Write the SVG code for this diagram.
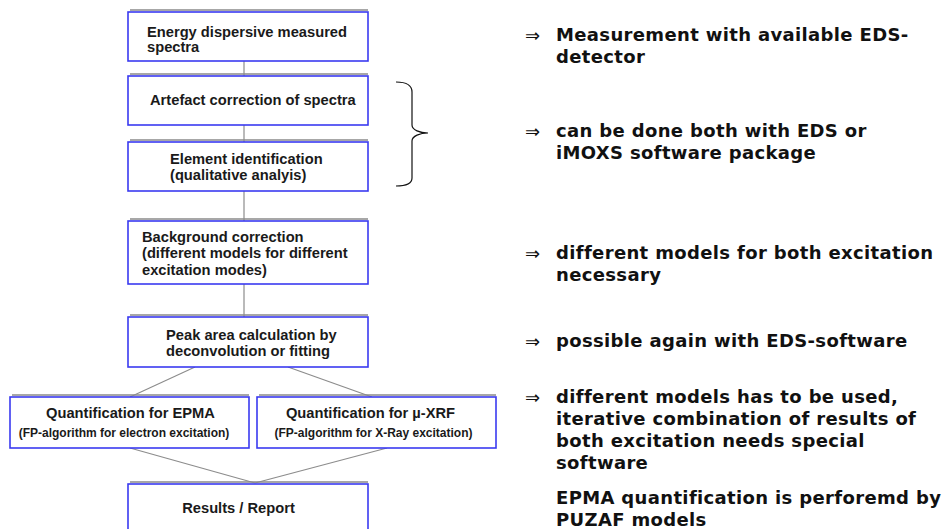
<svg xmlns="http://www.w3.org/2000/svg" width="943" height="529" viewBox="0 0 943 529">
<style>
.box{fill:#fff;stroke:#3a3af0;stroke-width:1.6}
.sh{stroke:#8a8a8a;stroke-width:1.4}
.t{font-family:"Liberation Sans",Arial,sans-serif;font-weight:bold;font-size:14.7px;fill:#1a1a1a}
.s{font-family:"Liberation Sans",Arial,sans-serif;font-weight:bold;font-size:12px;fill:#1a1a1a}
.c{stroke:#8c8c8c;stroke-width:1.2;fill:none}
.r{font-family:"DejaVu Sans",Verdana,sans-serif;font-weight:bold;font-size:18px;letter-spacing:0.35px;fill:#111}
.a{font-family:"DejaVu Sans",sans-serif;font-size:18px;fill:#111}
</style>
<rect width="943" height="529" fill="#fff"/>
<g id="connectors">
<line class="c" x1="244" y1="61" x2="244" y2="76"/>
<line class="c" x1="244" y1="125" x2="244" y2="142"/>
<line class="c" x1="244" y1="191" x2="244" y2="221"/>
<line class="c" x1="244" y1="284" x2="244" y2="317"/>
<line class="c" x1="195" y1="367" x2="130" y2="397"/>
<line class="c" x1="288" y1="367" x2="372" y2="397"/>
<line class="c" x1="130" y1="448" x2="255" y2="483"/>
<line class="c" x1="387" y1="448" x2="255" y2="483"/>
</g>
<g id="n1">
<line class="sh" x1="130" y1="10" x2="368" y2="10"/>
<rect class="box" x="128" y="12" width="240" height="49"/>
<text class="t" x="147" y="37">Energy dispersive measured</text>
<text class="t" x="147" y="52">spectra</text>
</g>
<g id="n2">
<line class="sh" x1="130" y1="74" x2="368" y2="74"/>
<rect class="box" x="128" y="76" width="240" height="49"/>
<text class="t" x="150" y="105">Artefact correction of spectra</text>
</g>
<g id="n3">
<line class="sh" x1="130" y1="140" x2="368" y2="140"/>
<rect class="box" x="128" y="142" width="240" height="49"/>
<text class="t" x="170" y="164">Element identification</text>
<text class="t" x="170" y="180">(qualitative analyis)</text>
</g>
<g id="n4">
<line class="sh" x1="130" y1="219" x2="368" y2="219"/>
<rect class="box" x="128" y="221" width="240" height="63"/>
<text class="t" x="142" y="242">Background correction</text>
<text class="t" x="142" y="258">(different models for different</text>
<text class="t" x="142" y="275">excitation modes)</text>
</g>
<g id="n5">
<line class="sh" x1="130" y1="315" x2="368" y2="315"/>
<rect class="box" x="128" y="317" width="240" height="50"/>
<text class="t" x="166" y="340">Peak area calculation by</text>
<text class="t" x="166" y="356">deconvolution or fitting</text>
</g>
<g id="n6">
<line class="sh" x1="12" y1="395" x2="249" y2="395"/>
<rect class="box" x="10" y="397" width="239" height="51"/>
<text class="t" x="130.5" y="418" text-anchor="middle">Quantification for EPMA</text>
<text class="s" x="124" y="437" text-anchor="middle">(FP-algorithm for electron excitation)</text>
</g>
<g id="n7">
<line class="sh" x1="259" y1="395" x2="496" y2="395"/>
<rect class="box" x="257" y="397" width="239" height="51"/>
<text class="t" x="370.5" y="418" text-anchor="middle">Quantification for µ-XRF</text>
<text class="s" x="373.5" y="437" text-anchor="middle">(FP-algorithm for X-Ray excitation)</text>
</g>
<g id="n8">
<line class="sh" x1="130" y1="482" x2="368" y2="482"/>
<rect class="box" x="128" y="484" width="240" height="60"/>
<text class="t" x="238.5" y="513" text-anchor="middle">Results / Report</text>
</g>
<g id="brace">
<path d="M396,82 C406,82 412,85 412,92 L412,125 C412,130 420,133 428,133 C420,133 412,136 412,141 L412,178 C412,184 406,186 396,186" fill="none" stroke="#111" stroke-width="1.2"/>
</g>
<g id="notes">
<text class="a" x="525" y="42">⇒</text>
<text class="r" x="556" y="41">Measurement with available EDS-</text>
<text class="r" x="556" y="63">detector</text>
<text class="a" x="525" y="138">⇒</text>
<text class="r" x="556" y="137">can be done both with EDS or</text>
<text class="r" x="556" y="159">iMOXS software package</text>
<text class="a" x="525" y="260">⇒</text>
<text class="r" x="556" y="259">different models for both excitation</text>
<text class="r" x="556" y="281">necessary</text>
<text class="a" x="525" y="348">⇒</text>
<text class="r" x="556" y="347">possible again with EDS-software</text>
<text class="a" x="525" y="404">⇒</text>
<text class="r" x="556" y="403">different models has to be used,</text>
<text class="r" x="556" y="425">iterative combination of results of</text>
<text class="r" x="556" y="447">both excitation needs special</text>
<text class="r" x="556" y="469">software</text>
<text class="r" x="556" y="504">EPMA quantification is perforemd by</text>
<text class="r" x="556" y="526">PUZAF models</text>
</g>
</svg>
